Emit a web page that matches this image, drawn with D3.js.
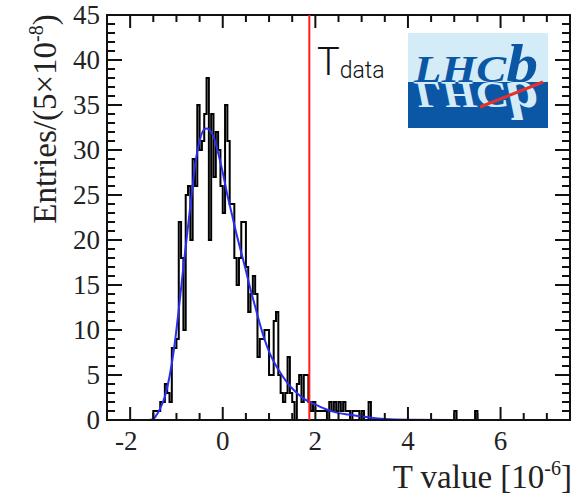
<!DOCTYPE html>
<html>
<head>
<meta charset="utf-8">
<script src="https://cdn.jsdelivr.net/npm/d3@7"></script>
<style>
  body { margin: 0; background: #fff; }
  svg { display: block; }
</style>
</head>
<body>
<div id="chart"></div>
<script>
// Histogram of T values, bins of 5x10^-8 (0.05 in units of 10^-6)
const binWidth = 0.05;
const firstBinLow = -1.50;
const binCounts = [
  1, 1, 1, 2, 2, 4, 3, 2, 8, 8,          // -1.50 .. -1.05
  9, 22, 18, 10, 25, 26, 20, 29, 26, 35, // -1.00 .. -0.55
  30, 31, 34, 38, 20, 34, 27, 32, 30, 26, // -0.50 .. -0.05
  23, 35, 31, 24, 24, 18, 15, 18, 22, 22, //  0.00 .. 0.45
  17, 12, 14, 16, 14, 7, 9, 9, 10, 10,   //  0.50 .. 0.95
  5, 5, 11, 12, 5, 3, 2, 3, 7, 3,        //  1.00 .. 1.45
  2, 0, 4, 5, 2, 5, 5, 2, 1, 2,          //  1.50 .. 1.95
  1, 1, 1, 1, 1, 0, 2, 1, 2, 1,          //  2.00 .. 2.45
  2, 1, 2, 1, 1, 0, 1, 1, 1, 0,          //  2.50 .. 2.95
  1, 0, 0, 2                             //  3.00 .. 3.15
];
// isolated entries far in the tail
const tailBinLows = [5.00, 5.45];
const tailCounts = [1, 1];

// fitted curve, sampled along T
const fitX = [-2.5, -1.6, -1.5, -1.45, -1.35, -1.25, -1.15, -1.05, -0.95, -0.85, -0.75, -0.7, -0.65, -0.6,
  -0.5, -0.4, -0.35, -0.3, -0.2, -0.1, 0, 0.1, 0.2, 0.3, 0.4, 0.5, 0.6, 0.7, 0.8, 0.9, 1.0,
  1.2, 1.4, 1.6, 1.8, 2.0, 2.2, 2.4, 2.7, 3.0, 3.5, 4.0, 5.0, 7.5];
const fitY = [0, 0, 0.1, 0.4, 1.3, 2.6, 4.8, 8, 12.3, 17, 21.5, 23.8, 26, 28.2,
  31, 32.3, 32.4, 32.3, 31.5, 29.7, 27.5, 25, 22.8, 20.6, 18.6, 16.6, 14.5, 12.6, 10.7, 9.0, 7.6,
  5.6, 4.1, 3.0, 2.2, 1.7, 1.25, 0.9, 0.6, 0.4, 0.1, 0.03, 0, 0];

const tData = 1.87;
const xTicks = [-2, 0, 2, 4, 6];
const yTicks = [0, 5, 10, 15, 20, 25, 30, 35, 40, 45];

const width = 578, height = 495;
const plot = { left: 107, right: 570, top: 15, bottom: 420 };

const svg = d3.select("#chart").append("svg")
  .attr("width", width)
  .attr("height", height);

const x = d3.scaleLinear().domain([-2.5, 7.5]).range([plot.left, plot.right]);
const y = d3.scaleLinear().domain([0, 45]).range([plot.bottom, plot.top]);

// step outline for a run of consecutive bins
function stepPoints(lows, counts) {
  const pts = [[lows[0], 0]];
  counts.forEach((n, i) => {
    pts.push([lows[i], n]);
    pts.push([lows[i] + binWidth, n]);
  });
  pts.push([lows[lows.length - 1] + binWidth, 0]);
  return pts;
}
const line = d3.line().x(d => x(d[0])).y(d => y(d[1]));

const mainLows = binCounts.map((_, i) => firstBinLow + i * binWidth);
svg.append("path")
  .attr("d", line(stepPoints(mainLows, binCounts)))
  .attr("fill", "none")
  .attr("stroke", "#000")
  .attr("stroke-width", 2);

tailBinLows.forEach((lo, i) => {
  svg.append("path")
    .attr("d", line(stepPoints([lo], [tailCounts[i]])))
    .attr("fill", "none")
    .attr("stroke", "#000")
    .attr("stroke-width", 2);
});

// fit
svg.append("path")
  .datum(fitX.map((v, i) => [v, fitY[i]]))
  .attr("d", d3.line().x(d => x(d[0])).y(d => y(d[1])).curve(d3.curveMonotoneX))
  .attr("fill", "none")
  .attr("stroke", "#2a2ef0")
  .attr("stroke-width", 2);

// frame and ticks on all four sides
svg.append("rect")
  .attr("x", plot.left).attr("y", plot.top)
  .attr("width", plot.right - plot.left).attr("height", plot.bottom - plot.top)
  .attr("fill", "none").attr("stroke", "#111").attr("stroke-width", 2);

const xMinor = d3.range(-2.5, 7.51, 0.5);
const yMinor = d3.range(0, 45.01, 1);
const ticks = svg.append("g").attr("stroke", "#111").attr("stroke-width", 2);
xMinor.forEach(v => {
  const major = xTicks.includes(Math.round(v * 10) / 10);
  const len = major ? 13 : 7;
  ticks.append("line").attr("x1", x(v)).attr("x2", x(v)).attr("y1", plot.bottom).attr("y2", plot.bottom - len);
  ticks.append("line").attr("x1", x(v)).attr("x2", x(v)).attr("y1", plot.top).attr("y2", plot.top + len);
});
yMinor.forEach(v => {
  const major = v % 5 === 0;
  const len = major ? 15 : 8;
  ticks.append("line").attr("y1", y(v)).attr("y2", y(v)).attr("x1", plot.left).attr("x2", plot.left + len);
  ticks.append("line").attr("y1", y(v)).attr("y2", y(v)).attr("x1", plot.right).attr("x2", plot.right - len);
});

// tick labels
const serif = "'Liberation Serif', 'Times New Roman', serif";
svg.append("g").selectAll("text").data(yTicks).join("text")
  .attr("x", plot.left - 7)
  .attr("y", d => y(d))
  .attr("dy", "0.34em")
  .attr("text-anchor", "end")
  .attr("font-family", serif).attr("font-size", 27).attr("fill", "#222")
  .text(d => d);

svg.append("g").selectAll("text").data(xTicks).join("text")
  .attr("x", d => x(d) - (d < 0 ? 4 : 0))
  .attr("y", 450)
  .attr("text-anchor", "middle")
  .attr("font-family", serif).attr("font-size", 27).attr("fill", "#222")
  .text(d => d);

// axis titles
const xt = svg.append("text")
  .attr("x", 572).attr("y", 488)
  .attr("text-anchor", "end")
  .attr("font-family", serif).attr("font-size", 33).attr("fill", "#222");
xt.append("tspan").text("T value [10");
xt.append("tspan").attr("dy", -13).attr("font-size", 20).text("-6");
xt.append("tspan").attr("dy", 13).text("]");

const yt = svg.append("text")
  .attr("transform", "translate(56,119) rotate(-90)")
  .attr("text-anchor", "middle")
  .attr("font-family", serif).attr("font-size", 33).attr("fill", "#222");
yt.append("tspan").text("Entries/(5\u00d710");
yt.append("tspan").attr("dy", -13).attr("font-size", 20).text("-8");
yt.append("tspan").attr("dy", 13).text(")");

// observed value
svg.append("line")
  .attr("x1", x(tData)).attr("x2", x(tData))
  .attr("y1", plot.top).attr("y2", plot.bottom)
  .attr("stroke", "#ff1a1a").attr("stroke-width", 2);

const tl = svg.append("text")
  .attr("x", 317).attr("y", 75)
  .attr("font-family", "Roboto, 'Liberation Sans', sans-serif")
  .attr("font-weight", 300).attr("font-size", 38).attr("fill", "#111");
tl.append("tspan").text("T");
tl.append("tspan").attr("dy", 3).attr("font-size", 23).text("data");

// LHCb logo: wordmark on light blue, its reflection on dark blue
const lx = 408, ly = 33, lw = 140, lh = 95, mid = 82;
const defs = svg.append("defs");
const word = defs.append("text").attr("id", "lhcbWord")
  .attr("x", 414).attr("y", mid)
  .attr("font-family", serif).attr("font-style", "italic").attr("font-weight", "bold")
  .attr("font-size", 38)
  .attr("textLength", 124).attr("lengthAdjust", "spacingAndGlyphs");
word.append("tspan").text("LHC");
word.append("tspan").attr("font-size", 54).text("b");
defs.append("clipPath").attr("id", "lowerHalf")
  .append("rect").attr("x", lx).attr("y", mid).attr("width", lw).attr("height", ly + lh - mid);

const logo = svg.append("g");
logo.append("rect").attr("x", lx).attr("y", ly).attr("width", lw).attr("height", mid - ly).attr("fill", "#d3ecf8");
logo.append("rect").attr("x", lx).attr("y", mid).attr("width", lw).attr("height", ly + lh - mid).attr("fill", "#0b57a6");
logo.append("use").attr("href", "#lhcbWord").attr("fill", "#0b57a6");
logo.append("g").attr("clip-path", "url(#lowerHalf)")
  .append("use").attr("href", "#lhcbWord").attr("fill", "#d3ecf8")
  .attr("transform", `translate(0,${2 * mid}) scale(1,-1)`);
logo.append("line")
  .attr("x1", 480).attr("y1", 107).attr("x2", 543).attr("y2", 82)
  .attr("stroke", "#e8302a").attr("stroke-width", 3);
</script>
</body>
</html>
